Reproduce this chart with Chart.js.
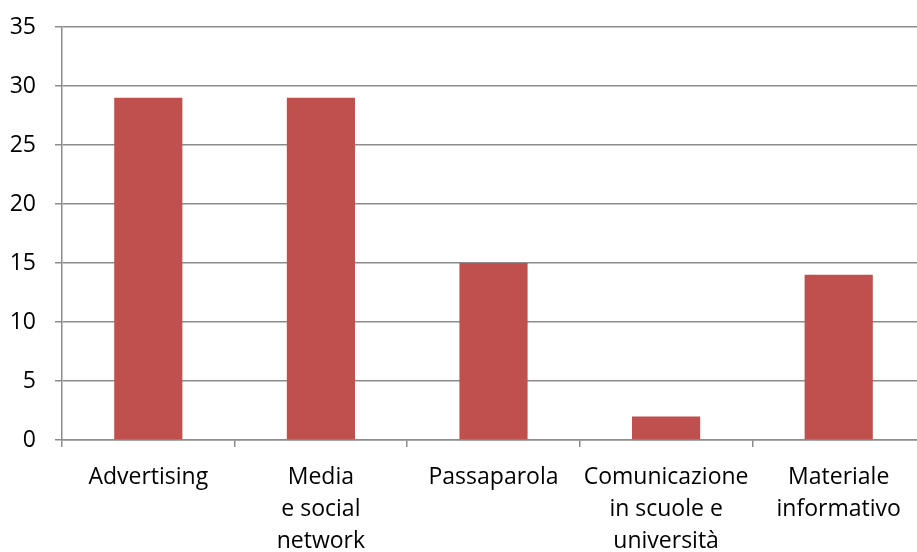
<!DOCTYPE html>
<html><head><meta charset="utf-8">
<script src="https://cdn.jsdelivr.net/npm/chart.js@4/dist/chart.umd.min.js"></script>
<style>html,body{margin:0;padding:0;overflow:hidden;background:#fff}#wrap{position:absolute;left:0;top:0;width:930px;height:552px}</style>
</head><body><div id="wrap"><canvas id="c"></canvas></div>
<script>
const categories = [['Advertising'], ['Media','e social','network'], ['Passaparola'], ['Comunicazione','in scuole e','università'], ['Materiale','informativo']];
const values = [29, 29, 15, 2, 14];
const yTicks = [0, 5, 10, 15, 20, 25, 30, 35];

new Chart(document.getElementById('c'), {
  type: 'bar',
  data: { labels: categories, datasets: [{ data: values, backgroundColor: '#C0504D', borderWidth: 0, categoryPercentage: 1, barPercentage: 0.395 }] },
  options: {
    responsive: true, maintainAspectRatio: false, animation: false,
    layout: { padding: { top: 27, right: 5, left: 0, bottom: 0 } },
    plugins: { legend: { display: false }, tooltip: { enabled: false } },
    scales: {
      x: {
        afterFit: s => { s.height = 112; s.paddingLeft = 0; s.paddingRight = 0; },
        grid: { drawOnChartArea: false, drawTicks: true, tickLength: 7, color: '#8c8c8c', lineWidth: 1.5, offset: true },
        border: { color: '#8c8c8c', width: 1.5 },
        ticks: { color: '#000', padding: 14, maxRotation: 0, autoSkip: false, font: { family: 'Open Sans', size: 23, lineHeight: 1.4 } }
      },
      y: {
        min: 0, max: 35,
        afterFit: s => { s.width = 62; s.paddingTop = 0; s.paddingBottom = 0; },
        afterBuildTicks: s => { s.ticks = yTicks.map(v => ({ value: v })); },
        grid: { color: '#8c8c8c', tickLength: 7, lineWidth: 1.5 },
        border: { color: '#8c8c8c', width: 1.5 },
        ticks: { color: '#000', padding: 19, font: { family: 'Open Sans', size: 23 } }
      }
    }
  }
});
</script></body></html>
